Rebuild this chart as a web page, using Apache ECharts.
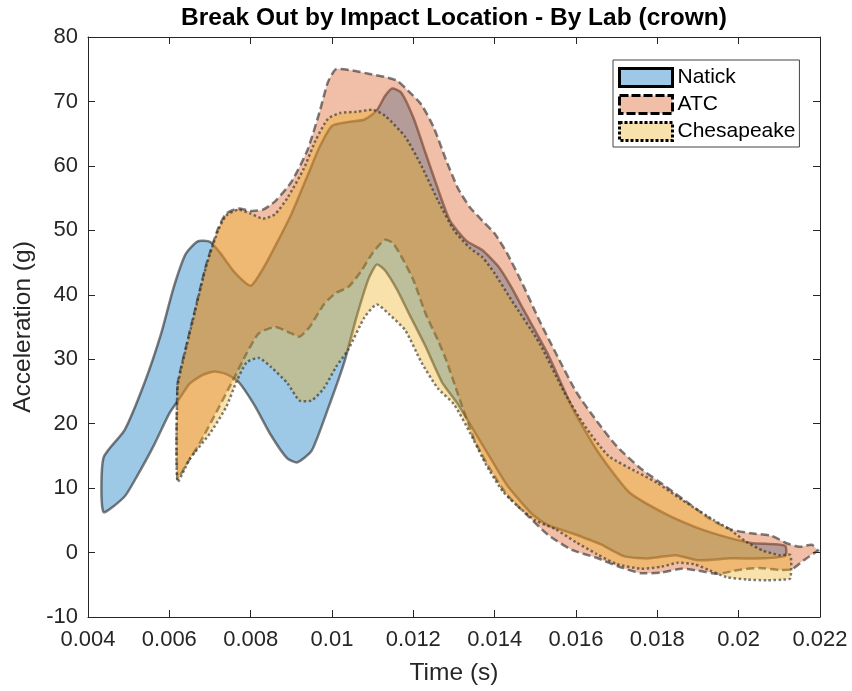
<!DOCTYPE html>
<html>
<head>
<meta charset="utf-8">
<script src="https://cdn.jsdelivr.net/npm/echarts@6/dist/echarts.min.js"></script>
<style>
  html, body { margin: 0; padding: 0; background: #fff; }
  #chart { width: 852px; height: 691px; }
</style>
</head>
<body>
<div id="chart"></div>
<script>
// corridor bounds: time (s) / acceleration (g)
var natickUpT = [0.00438, 0.0049, 0.0054, 0.0058, 0.0061, 0.0064, 0.0067, 0.0070, 0.00725, 0.0076, 0.0080, 0.0083, 0.0086, 0.0090, 0.0094, 0.0097, 0.0100, 0.0104, 0.0108, 0.0111, 0.0113, 0.01148, 0.0117, 0.0120, 0.0123, 0.0126, 0.0129, 0.0133, 0.0137, 0.0141, 0.0144, 0.0147, 0.0153, 0.0159, 0.0165, 0.0173, 0.0182, 0.0190, 0.0197, 0.0203, 0.0209, 0.02115];
var natickUpY = [14.7, 19, 26.5, 34, 41, 46.3, 48.3, 48.2, 46.5, 43.5, 41.4, 44, 47.5, 52.5, 58.5, 63, 66.2, 66.8, 67.2, 68.6, 70.8, 72, 71.4, 67.5, 62, 56.5, 51.5, 48.4, 46.9, 44.3, 41.3, 37.8, 30.9, 22.6, 16, 9.4, 6, 3.8, 2.4, 1.5, 1.3, 1.0];
var natickLoT = [0.00438, 0.0049, 0.0052, 0.0056, 0.0060, 0.00626, 0.0065, 0.0068, 0.0071, 0.0074, 0.0077, 0.0081, 0.0085, 0.0089, 0.00915, 0.0095, 0.0099, 0.0103, 0.0106, 0.0109, 0.0111, 0.0113, 0.0116, 0.0119, 0.0123, 0.0127, 0.0131, 0.0135, 0.0139, 0.0143, 0.0149, 0.0153, 0.0159, 0.0166, 0.0172, 0.0178, 0.01845, 0.0190, 0.0198, 0.0206, 0.02115];
var natickLoY = [6.3, 8.7, 11.8, 16.4, 21.6, 24, 26.2, 27.5, 28.1, 27.7, 26.5, 22.8, 18.2, 14.6, 14, 15.8, 22.3, 29.5, 36.5, 42.5, 44.7, 43.8, 40.8, 37, 32, 26.5, 23, 18.8, 14.6, 10.5, 6.1, 4.3, 3.0, 1.3, -0.6, -0.9, -0.4, -1.2, -0.9, -0.9, -0.5];

var atcUpT = [0.0062, 0.0063, 0.0066, 0.0069, 0.0072, 0.0074, 0.0077, 0.0080, 0.0083, 0.0086, 0.0090, 0.0094, 0.0097, 0.0099, 0.0101, 0.0105, 0.0109, 0.0113, 0.0116, 0.0119, 0.0122, 0.0125, 0.0128, 0.0131, 0.0134, 0.0137, 0.0140, 0.0143, 0.0147, 0.0151, 0.0155, 0.0160, 0.0165, 0.0170, 0.0176, 0.0182, 0.0188, 0.0193, 0.0198, 0.0203, 0.0208, 0.0212, 0.0215, 0.0218, 0.02195];
var atcUpY = [26, 29, 36.8, 44.5, 50.3, 52.6, 53.4, 53, 53.2, 54.5, 57.5, 62.5, 68.5, 73, 75, 74.8, 74.3, 73.8, 73.2, 71.5, 69.5, 66, 61, 56.5, 53.5, 51.5, 49.5, 46.5, 41.5, 36, 31, 25, 20.5, 16.5, 13, 10.3, 7.5, 5.2, 3.6, 3, 2.6, 1.4, 0.9, 1.2, 0.3];
var atcLoT = [0.0062, 0.0064, 0.00675, 0.0072, 0.00757, 0.0079, 0.0082, 0.0086, 0.0090, 0.0092, 0.00945, 0.0098, 0.0101, 0.0104, 0.0107, 0.0110, 0.0113, 0.0115, 0.0117, 0.0120, 0.0123, 0.0126, 0.0128, 0.0131, 0.0135, 0.0139, 0.0143, 0.0148, 0.0153, 0.0159, 0.0165, 0.0171, 0.0176, 0.0181, 0.0186, 0.0190, 0.0195, 0.0200, 0.0205, 0.0210, 0.0213, 0.0216, 0.02195];
var atcLoY = [11.5, 13.5, 17, 22.3, 26.8, 30.9, 34, 35, 34, 33.5, 35, 38.5, 40.3, 41.2, 43.5, 46.5, 48.5, 48, 46, 42.3, 37.1, 33, 30, 24.5, 17.5, 12.8, 9, 5.8, 2.8, 0.4, -0.8, -2.3, -3.2, -3.1, -2.5, -2.8, -3.3, -2.7, -2.4, -2.7, -2.6, -1.2, 0.3];

var chesUpT = [0.0062, 0.0063, 0.0066, 0.0069, 0.0072, 0.0074, 0.0077, 0.0080, 0.0083, 0.0086, 0.0089, 0.0093, 0.0096, 0.0099, 0.0102, 0.0106, 0.0110, 0.0113, 0.0118, 0.0122, 0.0126, 0.0130, 0.0134, 0.0137, 0.0140, 0.0144, 0.0151, 0.0157, 0.0162, 0.0168, 0.0175, 0.0180, 0.0186, 0.0194, 0.0198, 0.0202, 0.0206, 0.0210, 0.02127];
var chesUpY = [25.5, 28.8, 36.6, 44.3, 50, 52.3, 53.2, 52.6, 51.8, 52.5, 55, 59.5, 64, 67.3, 68.2, 68.4, 68.7, 67.8, 64.5, 60, 54.7, 50, 47.2, 45.8, 43.3, 39.3, 32.5, 25, 19.8, 15, 12.5, 10.8, 8.2, 5, 3.5, 1.6, 0.3, -0.4, -0.4];
var chesLoT = [0.0062, 0.0065, 0.0070, 0.0074, 0.00765, 0.0079, 0.0082, 0.0085, 0.0089, 0.0092, 0.0095, 0.0098, 0.0101, 0.0104, 0.0108, 0.0111, 0.0114, 0.0118, 0.0122, 0.0126, 0.0130, 0.0134, 0.0138, 0.0142, 0.0146, 0.0150, 0.0155, 0.0160, 0.0165, 0.0170, 0.0176, 0.0181, 0.0185, 0.0189, 0.0193, 0.0197, 0.0202, 0.0207, 0.0211, 0.02127];
var chesLoY = [11, 14.5, 18.5, 22.6, 26.5, 29.5, 30.2, 28.8, 26.3, 23.6, 23.6, 25.5, 28.8, 31.5, 36.5, 38.5, 37, 34.5, 29.5, 25.5, 23, 18.5, 13.5, 9.5, 7, 5, 3.6, 1.6, -0.2, -1.8, -2.5, -2.2, -1.6, -1.8, -2.8, -3.8, -4.2, -4.3, -4.2, -4];

var labs = ['Natick', 'ATC', 'Chesapeake'];
var fills = ['rgba(0,114,189,0.38)', 'rgba(217,83,25,0.38)', 'rgba(237,177,32,0.38)'];
var edge = 'rgba(40,40,40,0.6)';
var font = 'Liberation Sans, Arial, Helvetica, sans-serif';
var axisColor = '#262626';

function band(name, upT, upY, loT, loY, fill, dash) {
    var pts = [];
    for (var i = 0; i < upT.length; i++) pts.push([upT[i], upY[i]]);
    for (var j = loT.length - 1; j >= 0; j--) pts.push([loT[j], loY[j]]);
    return {
        name: name,
        type: 'custom',
        data: pts,
        encode: {x: 0, y: 1},
        itemStyle: {color: fill},
        silent: true,
        clip: true,
        renderItem: function(params, api) {
            if (params.dataIndex !== 0) return null;
            var poly = pts.map(function(p) { return api.coord(p); });
            return {
                type: 'polygon',
                shape: {points: poly, smooth: 0.2},
                style: {fill: fill, stroke: edge, lineWidth: 2.5, lineDash: dash}
            };
        }
    };
}

function boxAxis(pos, isX) {
    var ax = {
        type: 'value',
        position: pos,
        axisLine: {show: true, onZero: false, lineStyle: {color: axisColor, width: 1}},
        axisTick: {show: true, inside: true, length: 7, lineStyle: {color: axisColor}},
        splitLine: {show: false},
        axisLabel: {show: false}
    };
    if (isX) { ax.min = 0.004; ax.max = 0.022; ax.interval = 0.002; }
    else { ax.min = -10; ax.max = 80; ax.interval = 10; }
    return ax;
}

var xMain = boxAxis('bottom', true);
xMain.name = 'Time (s)';
xMain.nameLocation = 'middle';
xMain.nameGap = 44;
xMain.nameTextStyle = {fontFamily: font, fontSize: 24.5, color: axisColor};
xMain.axisLabel = {show: true, margin: 12, fontFamily: font, fontSize: 22, color: axisColor,
    formatter: function(v) { return String(+v.toFixed(3)); }};

var yMain = boxAxis('left', false);
yMain.name = 'Acceleration (g)';
yMain.nameLocation = 'middle';
yMain.nameGap = 51;
yMain.nameTextStyle = {fontFamily: font, fontSize: 24.5, color: axisColor};
yMain.axisLabel = {show: true, margin: 10, fontFamily: font, fontSize: 22, color: axisColor};

var chart = echarts.init(document.getElementById('chart'));
chart.setOption({
    animation: false,
    backgroundColor: '#fff',
    title: {
        text: 'Break Out by Impact Location - By Lab (crown)',
        left: 454, top: 6, padding: 0, textAlign: 'center',
        textStyle: {fontFamily: font, fontSize: 24.5, fontWeight: 'bold', color: '#000'}
    },
    grid: {left: 88, right: 32, top: 37, bottom: 74, containLabel: false},
    legend: {
        orient: 'vertical',
        left: 613, top: 60,
        padding: [7, 4, 5, 5],
        itemWidth: 53, itemHeight: 18, itemGap: 6,
        backgroundColor: '#fff',
        borderColor: '#444', borderWidth: 1,
        selectedMode: false,
        textStyle: {fontFamily: font, fontSize: 21, color: '#000'},
        data: [
            {name: labs[0], icon: 'rect', itemStyle: {color: fills[0], borderColor: '#000', borderWidth: 3, borderType: 'solid'}},
            {name: labs[1], icon: 'rect', itemStyle: {color: fills[1], borderColor: '#000', borderWidth: 3, borderType: [9, 3]}},
            {name: labs[2], icon: 'rect', itemStyle: {color: fills[2], borderColor: '#000', borderWidth: 3, borderType: [3, 2]}}
        ]
    },
    xAxis: [xMain, boxAxis('top', true)],
    yAxis: [yMain, boxAxis('right', false)],
    series: [
        band(labs[0], natickUpT, natickUpY, natickLoT, natickLoY, fills[0], null),
        band(labs[1], atcUpT, atcUpY, atcLoT, atcLoY, fills[1], [8, 4]),
        band(labs[2], chesUpT, chesUpY, chesLoT, chesLoY, fills[2], [2.5, 2.5])
    ]
});
</script>
</body>
</html>
